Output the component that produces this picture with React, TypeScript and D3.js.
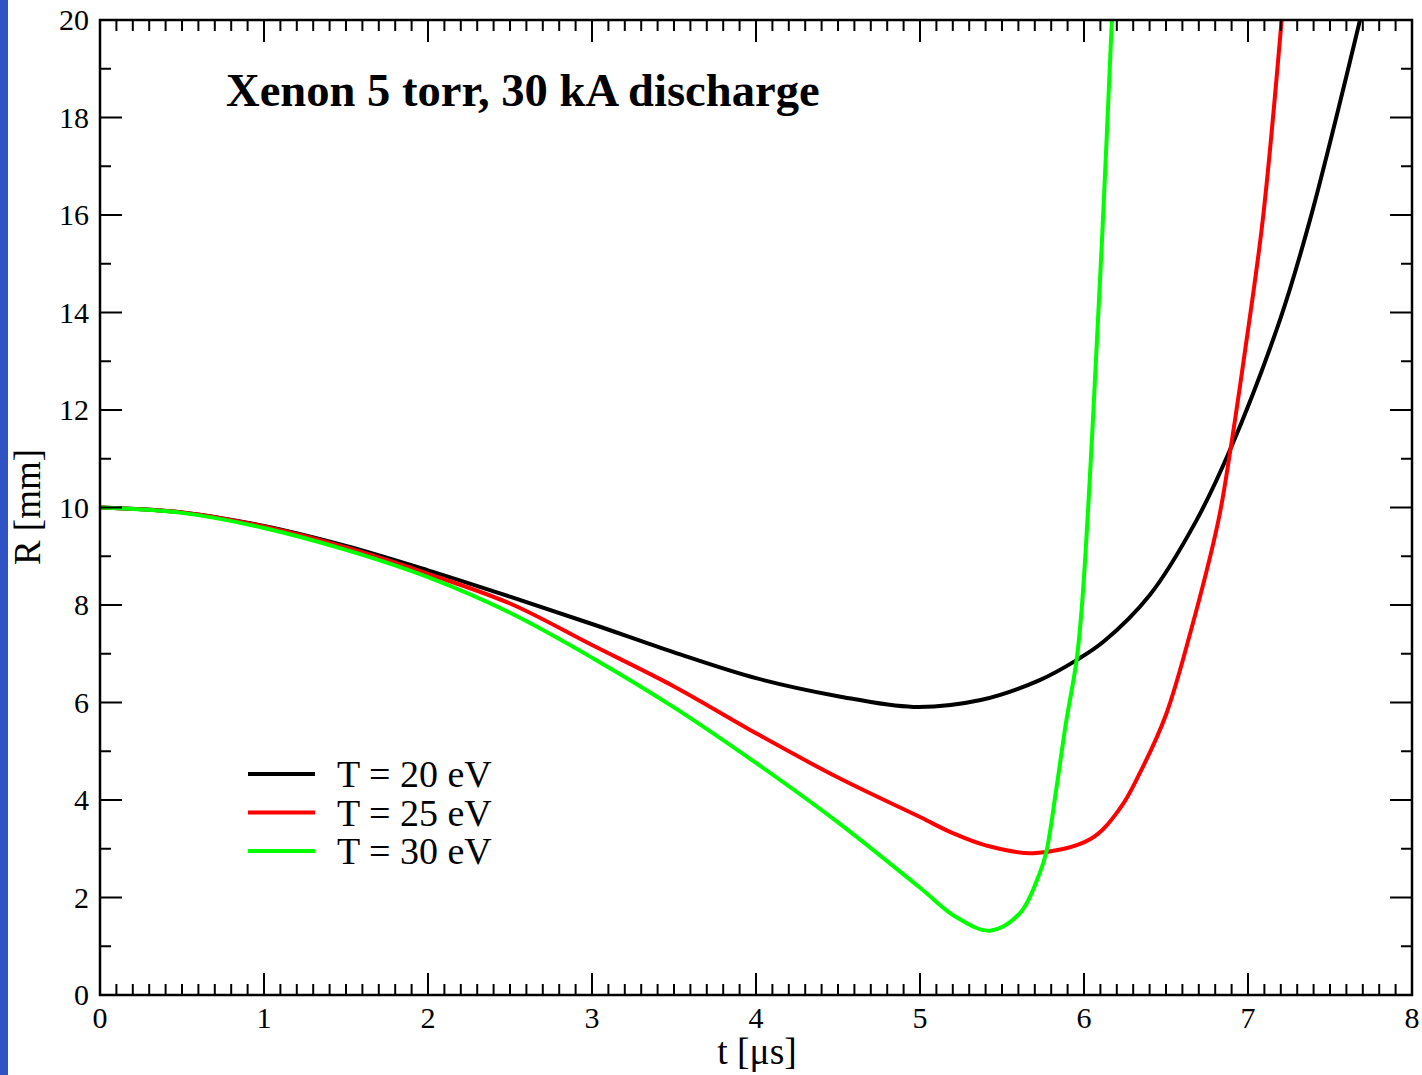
import React from "react";
import * as d3 from "d3";

// ---- data ----
const xTickValues = [0, 1, 2, 3, 4, 5, 6, 7, 8];
const yTickValues = [0, 2, 4, 6, 8, 10, 12, 14, 16, 18, 20];

const t20 = [0, 0.5, 1.0, 1.5, 2.0, 2.5, 3.0, 3.5, 4.0, 4.5, 4.96, 5.37, 5.73, 5.955, 6.12, 6.4, 6.68, 6.894, 7.195, 7.378, 7.683];
const r20 = [10.0, 9.9, 9.62, 9.21, 8.71, 8.17, 7.61, 7.03, 6.5, 6.13, 5.91, 6.05, 6.46, 6.87, 7.25, 8.2, 9.7, 11.21, 13.85, 15.9, 20.0];

const t25 = [0, 0.5, 1.0, 1.5, 2.0, 2.5, 3.0, 3.5, 4.0, 4.5, 5.0, 5.2, 5.4, 5.69, 6.04, 6.22, 6.34, 6.5, 6.65, 6.82, 6.894, 6.98, 7.09, 7.205];
const r25 = [10.0, 9.9, 9.61, 9.18, 8.64, 8.03, 7.18, 6.33, 5.37, 4.46, 3.65, 3.32, 3.07, 2.91, 3.2, 3.83, 4.55, 5.75, 7.45, 9.74, 11.21, 13.17, 15.9, 20.0];

const t30 = [0, 0.5, 1.0, 1.5, 2.0, 2.5, 3.0, 3.5, 4.0, 4.5, 5.0, 5.22, 5.427, 5.61, 5.73, 5.77, 5.83, 5.89, 5.955, 5.99, 6.05, 6.11, 6.17];
const r30 = [10.0, 9.89, 9.58, 9.13, 8.57, 7.84, 6.92, 5.9, 4.76, 3.54, 2.2, 1.6, 1.32, 1.68, 2.5, 2.93, 4.2, 5.58, 6.87, 8.1, 11.5, 15.5, 20.0];

const seriesLabels = ["T = 20 eV", "T = 25 eV", "T = 30 eV"];
const seriesColors = ["#000000", "#ff0000", "#00ff00"];
const seriesT = [t20, t25, t30];
const seriesR = [r20, r25, r30];

const titleText = "Xenon 5 torr, 30 kA discharge";
const xTitle = "t [\u03bcs]";
const yTitle = "R [mm]";

const FONT = "'Liberation Serif', 'Times New Roman', Times, serif";

export default function App() {
  const W = 1422;
  const H = 1075;
  const left = 100, right = 1412, top = 20, bottom = 995;
  const x = d3.scaleLinear().domain([0, 8]).range([left, right]);
  const y = d3.scaleLinear().domain([0, 20]).range([bottom, top]);

  const line = d3
    .line<[number, number]>()
    .x((d) => x(d[0]))
    .y((d) => y(d[1]))
    .curve(d3.curveCatmullRom.alpha(0.5));

  const xMinor = d3.range(0, 81).map((i) => i / 10).filter((v) => Math.abs(v - Math.round(v)) > 1e-6);
  const yMinor = d3.range(1, 20, 2);

  const majorLen = 22;
  const minorLen = 11;

  return (
    <svg
      width={W}
      height={H}
      style={{ position: "absolute", left: 0, top: 0, background: "#fff" }}
      xmlns="http://www.w3.org/2000/svg"
    >
      <rect x={0} y={0} width={W} height={H} fill="#ffffff" />
      <rect x={0} y={0} width={8} height={H} fill="#2f53c4" />
      <defs>
        <clipPath id="plotclip">
          <rect x={left} y={top} width={right - left} height={bottom - top} />
        </clipPath>
      </defs>

      {/* curves */}
      <g clipPath="url(#plotclip)">
        {seriesT.map((ts, si) => {
          const pts = ts.map((t, i) => [t, seriesR[si][i]] as [number, number]);
          return (
            <path
              key={si}
              d={line(pts) || ""}
              fill="none"
              stroke={seriesColors[si]}
              strokeWidth={4}
              strokeLinejoin="round"
            />
          );
        })}
      </g>

      {/* ticks */}
      <g stroke="#000" strokeWidth={2}>
        {xTickValues.map((v) => (
          <g key={"xM" + v}>
            <line x1={x(v)} x2={x(v)} y1={bottom} y2={bottom - majorLen} />
            <line x1={x(v)} x2={x(v)} y1={top} y2={top + majorLen} />
          </g>
        ))}
        {xMinor.map((v) => (
          <g key={"xm" + v}>
            <line x1={x(v)} x2={x(v)} y1={bottom} y2={bottom - minorLen} />
            <line x1={x(v)} x2={x(v)} y1={top} y2={top + minorLen} />
          </g>
        ))}
        {yTickValues.map((v) => (
          <g key={"yM" + v}>
            <line x1={left} x2={left + majorLen} y1={y(v)} y2={y(v)} />
            <line x1={right} x2={right - majorLen} y1={y(v)} y2={y(v)} />
          </g>
        ))}
        {yMinor.map((v) => (
          <g key={"ym" + v}>
            <line x1={left} x2={left + minorLen} y1={y(v)} y2={y(v)} />
            <line x1={right} x2={right - minorLen} y1={y(v)} y2={y(v)} />
          </g>
        ))}
      </g>

      {/* frame */}
      <rect
        x={left}
        y={top}
        width={right - left}
        height={bottom - top}
        fill="none"
        stroke="#000"
        strokeWidth={2.5}
      />

      {/* tick labels */}
      <g fontFamily={FONT} fontSize={30} fill="#000">
        {xTickValues.map((v) => (
          <text key={"xl" + v} x={x(v)} y={1028} textAnchor="middle">
            {v}
          </text>
        ))}
        {yTickValues.map((v) => (
          <text key={"yl" + v} x={89} y={y(v) + 10} textAnchor="end">
            {v}
          </text>
        ))}
      </g>

      {/* axis titles */}
      <text
        x={757}
        y={1064}
        textAnchor="middle"
        fontFamily={FONT}
        fontSize={37.5}
        fill="#000"
      >
        {xTitle}
      </text>
      <text
        transform={`translate(40, 507) rotate(-90)`}
        textAnchor="middle"
        fontFamily={FONT}
        fontSize={37}
        fill="#000"
      >
        {yTitle}
      </text>

      {/* title */}
      <text
        x={226}
        y={106}
        fontFamily={FONT}
        fontWeight="bold"
        fontSize={46.6}
        fill="#000"
      >
        {titleText}
      </text>

      {/* legend */}
      <g>
        {seriesLabels.map((lab, i) => {
          const ly = 774 + i * 38.5;
          return (
            <g key={lab}>
              <line x1={248} x2={315} y1={ly} y2={ly} stroke={seriesColors[i]} strokeWidth={4} />
              <text x={337} y={ly + 13} fontFamily={FONT} fontSize={38} fill="#000">
                {lab}
              </text>
            </g>
          );
        })}
      </g>
    </svg>
  );
}
